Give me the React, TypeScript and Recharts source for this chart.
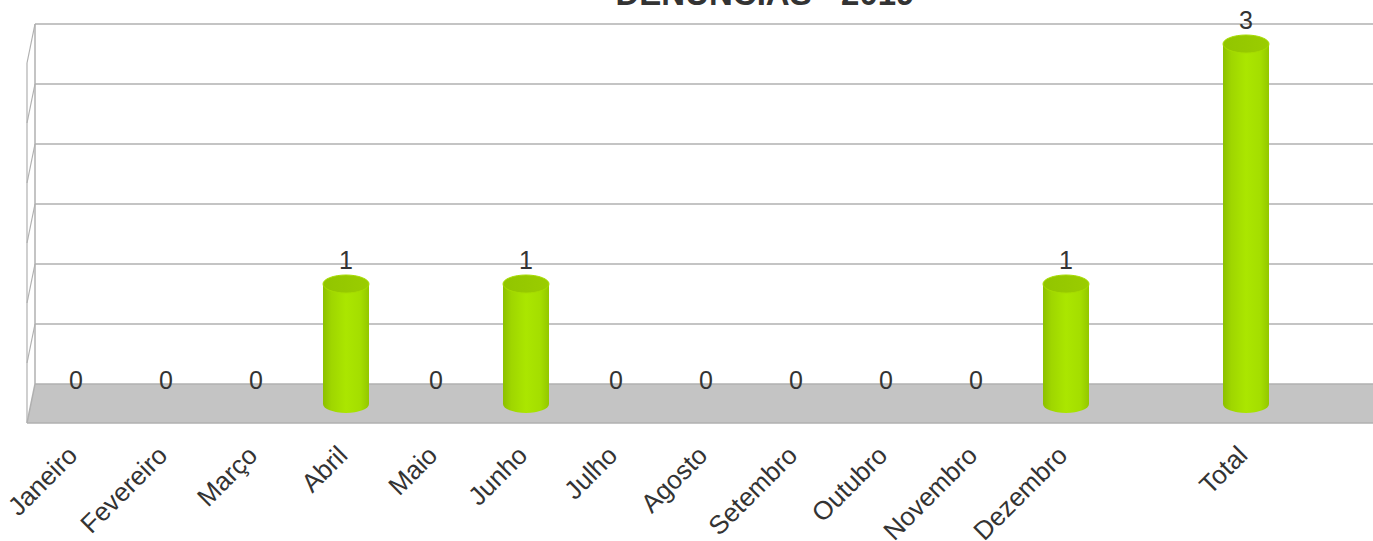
import { BarChart, Bar, XAxis, YAxis, CartesianGrid, LabelList, Customized } from "recharts"

const meses = ["Janeiro", "Fevereiro", "Março", "Abril", "Maio", "Junho", "Julho", "Agosto", "Setembro", "Outubro", "Novembro", "Dezembro", "", "Total"]
const denuncias = [0, 0, 0, 1, 0, 1, 0, 0, 0, 0, 0, 1, null, 3]
const yTicks = [0, 0.5, 1, 1.5, 2, 2.5, 3]

const data = meses.map((mes, i) => ({ mes, valor: denuncias[i] }))

// fake 3d: bars sit half way into the floor depth
const DEPTH_X = 8
const DEPTH_Y = 39
const SHIFT_X = DEPTH_X / 2
const SHIFT_Y = 20
const GRID = "#b0b0b0"
const TEXT = "#333333"
const FONT = "'Liberation Sans', Arial, sans-serif"

function Cylinder(props: any) {
  const { x, y, width, height } = props
  if (!height || height <= 0) return null
  const rx = width / 2
  const ry = 9
  const cx = x + rx - SHIFT_X
  const top = y + SHIFT_Y
  const bottom = y + height + SHIFT_Y
  return (
    <g>
      <path
        d={`M${cx - rx},${top} L${cx - rx},${bottom} A${rx},${ry} 0 0 0 ${cx + rx},${bottom} L${cx + rx},${top} Z`}
        fill="url(#cylBody)"
      />
      <ellipse cx={cx} cy={top} rx={rx} ry={ry} fill="url(#cylTop)" stroke="#a6dc00" strokeWidth={1} />
    </g>
  )
}

function ValueLabel(props: any) {
  const { x, y, width, value } = props
  if (value == null) return null
  return (
    <text x={x + width / 2 - SHIFT_X} y={y + 4.5} textAnchor="middle" fontSize={25} fill={TEXT} fontFamily={FONT}>
      {value}
    </text>
  )
}

function MonthTick(props: any) {
  const { x, y, payload } = props
  if (!payload.value) return null
  const tx = x - 1
  const ty = y + 73
  return (
    <text x={tx} y={ty} transform={`rotate(-45, ${tx}, ${ty})`} textAnchor="end" fontSize={26} fill={TEXT} fontFamily={FONT}>
      {payload.value}
    </text>
  )
}

// horizontal grid lines: back wall line + slanted stub on the left wall; the bottom one becomes the floor
function GridRow(props: any) {
  const { x1, y1, x2, y, height } = props
  const isFloor = Math.abs(y1 - (y + height)) < 1
  const right = x2 + 40
  if (isFloor) {
    return (
      <g>
        <polygon points={`${x1},${y1} ${right},${y1} ${right},${y1 + DEPTH_Y} ${x1 - DEPTH_X},${y1 + DEPTH_Y}`} fill="#c4c4c4" />
        <line x1={x1} y1={y1} x2={right} y2={y1} stroke={GRID} strokeWidth={1.5} />
        <line x1={x1 - DEPTH_X} y1={y1 + DEPTH_Y} x2={right} y2={y1 + DEPTH_Y} stroke={GRID} strokeWidth={1.5} />
        <line x1={x1} y1={y1} x2={x1 - DEPTH_X} y2={y1 + DEPTH_Y} stroke={GRID} strokeWidth={1.5} />
      </g>
    )
  }
  return (
    <g>
      <line x1={x1} y1={y1} x2={right} y2={y1} stroke={GRID} strokeWidth={1.5} />
      <line x1={x1} y1={y1} x2={x1 - DEPTH_X} y2={y1 + DEPTH_Y} stroke={GRID} strokeWidth={1.2} />
    </g>
  )
}

// left wall: back edge and front edge
function WallEdge(props: any) {
  const { x1, y1, y2 } = props
  return (
    <g>
      <line x1={x1} y1={y1} x2={x1} y2={y2} stroke={GRID} strokeWidth={1.5} />
      <line x1={x1 - DEPTH_X} y1={y1 + DEPTH_Y} x2={x1 - DEPTH_X} y2={y2 + DEPTH_Y} stroke={GRID} strokeWidth={1.2} />
    </g>
  )
}

function Title() {
  return (
    <text x={765} y={5} textAnchor="middle" fontSize={33} fontWeight="bold" fill={TEXT} fontFamily={FONT}>
      DENÚNCIAS - 2019
    </text>
  )
}

export default function App() {
  return (
    <div style={{ position: "fixed", left: 0, top: 0, width: 1373, height: 541, overflow: "hidden", background: "#fff" }}>
      <BarChart
        width={1385}
        height={541}
        data={data}
        margin={{ top: 24, right: 0, bottom: 0, left: 35 }}
        barSize={46}
      >
        <defs>
          <linearGradient id="cylBody" x1="0" y1="0" x2="1" y2="0">
            <stop offset="0%" stopColor="#8cbf00" />
            <stop offset="18%" stopColor="#9fd600" />
            <stop offset="50%" stopColor="#abe600" />
            <stop offset="82%" stopColor="#a4de00" />
            <stop offset="100%" stopColor="#93c700" />
          </linearGradient>
          <linearGradient id="cylTop" x1="0" y1="0" x2="1" y2="0">
            <stop offset="0%" stopColor="#92c500" />
            <stop offset="100%" stopColor="#9acd00" />
          </linearGradient>
        </defs>
        <CartesianGrid
          stroke={GRID}
          horizontal={<GridRow />}
          vertical={<WallEdge />}
          verticalCoordinatesGenerator={({ offset }: any) => [offset.left]}
        />
        <XAxis
          dataKey="mes"
          interval={0}
          axisLine={false}
          tickLine={false}
          tickSize={0}
          tickMargin={0}
          height={157}
          padding={{ left: 0, right: 90 }}
          tick={<MonthTick />}
        />
        <YAxis hide domain={[0, 3]} ticks={yTicks} />
        <Bar dataKey="valor" shape={<Cylinder />} isAnimationActive={false}>
          <LabelList dataKey="valor" content={<ValueLabel />} />
        </Bar>
        <Customized component={<Title />} />
      </BarChart>
    </div>
  )
}
